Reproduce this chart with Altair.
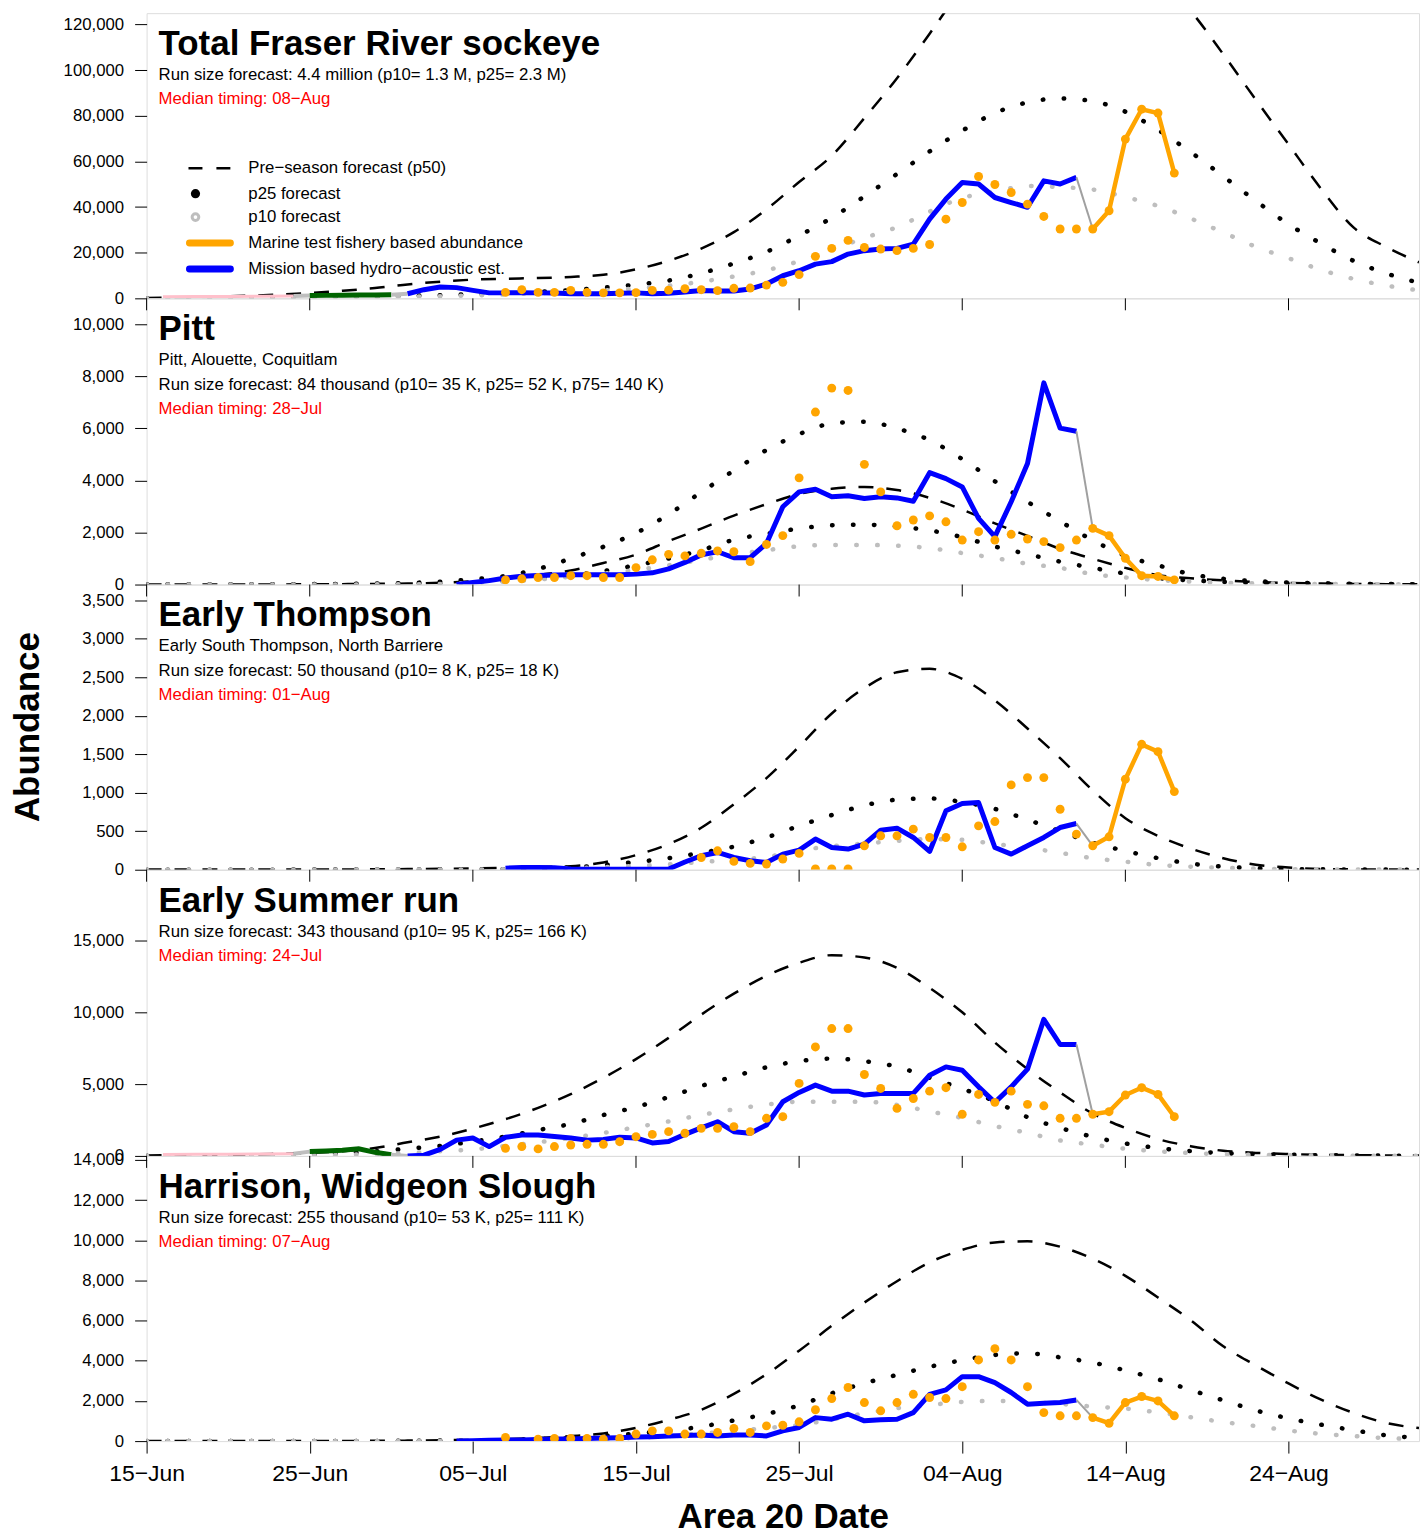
import altair as alt
import pandas as pd

FONT = "Liberation Sans"
PANEL_WIDTH = 1276
PANEL_HEIGHTS = [286, 287, 286, 287, 286]
DAY_MAX = 78  # days after 15-Jun (right edge ~ 01-Sep)

ORANGE = "#FFA500"
BLUE = "#0000FF"
GREY = "#BEBEBE"
CONNECT_GREY = "#A0A0A0"
PINK = "#FFC0CB"
GREEN = "#006400"
RED = "#FF0000"

# ---- x axis ----
TICK_DAYS = [0, 10, 20, 30, 40, 50, 60, 70]
TICK_LABELS = ["15−Jun", "25−Jun", "05−Jul", "15−Jul", "25−Jul", "04−Aug", "14−Aug", "24−Aug"]
CURVE_DAYS = list(range(0, 79, 2))          # forecast curves read every 2 days
SEGMENT_DAYS = [58, 59, 60, 61, 62, 63]     # connected orange segment

LEGEND_LABELS = ["Pre−season forecast (p50)", "p25 forecast", "p10 forecast",
                 "Marine test fishery based abundance", "Mission based hydro−acoustic est."]

# ---- Total Fraser River sockeye ----
TOTAL_P50 = [200, 400, 700, 1100, 1600, 2300, 3300, 4500, 6100, 7300,
             8200, 8600, 8900, 9400, 10300, 12700, 16500, 21800, 29000, 39000,
             51000, 62500, 79000, 96500, 116000, 136000, 152000, 162000, 166000, 163000,
             154000, 141000, 126000, 107000, 87000, 67500, 48000, 31000, 22500, 15800]
TOTAL_P25 = [50, 80, 120, 180, 280, 450, 650, 850, 1100, 1400,
             1800, 2300, 2900, 3600, 4700, 6000, 7800, 11000, 15300, 20400,
             27500, 35300, 44700, 54500, 64400, 73500, 81200, 85900, 87600, 86400,
             81800, 73800, 64100, 53500, 42700, 32500, 24000, 16400, 10900, 6800]
TOTAL_P10 = [20, 40, 60, 100, 150, 250, 350, 500, 700, 950,
             1300, 1700, 2200, 2800, 3500, 4300, 5500, 7300, 9600, 12300,
             16300, 21300, 26500, 31200, 38000, 44000, 46700, 49300, 48700, 47700,
             44400, 40500, 35000, 28900, 22600, 17600, 12500, 8500, 5600, 3500]
TOTAL_BLUE_START = 16
TOTAL_BLUE = [2000, 3800, 5000, 4700, 3500, 2400, 2400, 2500, 2400, 2300, 2000, 2000, 2000, 2200,
              2400, 2000, 2200, 2800, 3400, 3200, 3200, 4100, 6300, 9900, 12100, 15000, 16100,
              19400, 20900, 21600, 21900, 23800, 34700, 43500, 50800, 50100, 44200, 42000,
              39900, 51500, 50100, 53000]
TOTAL_ORANGE_START = 22
TOTAL_ORANGE = [2600, 3800, 2600, 2600, 3500, 2600, 2400, 2400, 2500, 3500, 3600, 4200, 3800,
                3400, 4400, 4500, 5800, 7000, 10400, 18400, 21900, 25400, 22300, 21600, 20900,
                21900, 23600, 34700, 42000, 53400, 49900, 46400, 41300, 35900, 30400, 30400]
TOTAL_ORANGE_LINE = [30400, 38400, 69800, 82900, 81200, 54900]
TOTAL_PINK_DAYS = [1, 3, 5, 7, 9]
TOTAL_PINK = [700, 800, 850, 900, 1000]
TOTAL_GREY_A_DAYS = [9, 10]
TOTAL_GREY_A = [1000, 1200]
TOTAL_GREEN_DAYS = [10, 11, 12, 13, 14, 15]
TOTAL_GREEN = [1200, 1300, 1400, 1500, 1500, 1600]
TOTAL_GREY_B_DAYS = [15, 16]
TOTAL_GREY_B = [1600, 2000]

# ---- Pitt ----
PITT_P50 = [5, 5, 5, 5, 5, 10, 15, 25, 40, 70,
            130, 230, 370, 540, 830, 1150, 1670, 2150, 2650, 3090,
            3480, 3680, 3750, 3630, 3330, 2880, 2350, 1870, 1370, 990,
            640, 360, 240, 160, 100, 60, 40, 25, 15, 10]
PITT_P75 = [5, 5, 5, 5, 8, 15, 25, 40, 60, 110,
            200, 330, 600, 1000, 1450, 1980, 2700, 3550, 4380, 5170,
            5780, 6190, 6260, 6000, 5550, 4820, 3970, 3180, 2430, 1700,
            1100, 740, 400, 220, 130, 80, 50, 30, 20, 10]
PITT_P25 = [3, 3, 3, 3, 3, 5, 8, 12, 20, 40,
            80, 140, 230, 350, 520, 740, 1000, 1320, 1720, 1950,
            2150, 2280, 2300, 2230, 2080, 1820, 1460, 1170, 880, 640,
            420, 250, 160, 100, 60, 40, 25, 15, 10, 5]
PITT_P10 = [2, 2, 2, 2, 2, 3, 5, 8, 12, 25,
            60, 110, 190, 300, 420, 560, 740, 950, 1150, 1320,
            1470, 1520, 1520, 1490, 1400, 1210, 1020, 800, 640, 400,
            270, 170, 110, 70, 45, 30, 20, 12, 8, 5]
PITT_BLUE_START = 19
PITT_BLUE = [0, 80, 150, 250, 320, 350, 370, 380, 380, 380, 380, 400, 450, 600, 850, 1140, 1260,
             1030, 1030, 1580, 2990, 3560, 3660, 3370, 3410, 3310, 3370, 3330, 3200, 4300, 4070,
             3750, 2540, 1840, 3180, 4650, 7750, 6010, 5890]
PITT_ORANGE_START = 22
PITT_ORANGE = [180, 220, 270, 270, 340, 340, 270, 270, 650, 950, 1160, 1100, 1200, 1290, 1260,
               880, 1540, 1880, 4100, 6630, 7550, 7460, 4620, 3560, 2260, 2480, 2640, 2410,
               1710, 2030, 1710, 1930, 1750, 1650, 1420, 1710]
PITT_ORANGE_LINE = [2160, 1880, 1010, 340, 310, 180]

# ---- Early Thompson ----
ET_P50 = [2, 2, 2, 2, 3, 3, 4, 5, 8, 12,
          18, 25, 35, 45, 95, 190, 333, 545, 850, 1190,
          1600, 2030, 2360, 2565, 2610, 2480, 2200, 1835, 1450, 1030,
          670, 440, 275, 150, 65, 30, 10, 5, 3, 2]
ET_P25 = [1, 1, 1, 1, 1, 2, 2, 3, 4, 5,
          6, 8, 15, 30, 60, 100, 150, 220, 300, 420,
          570, 710, 835, 910, 925, 880, 790, 650, 500, 350,
          245, 150, 80, 40, 20, 10, 5, 3, 2, 1]
ET_P10 = [1, 1, 1, 1, 1, 1, 1, 2, 2, 3,
          4, 5, 10, 20, 35, 50, 70, 100, 130, 165,
          250, 305, 340, 375, 398, 388, 335, 285, 220, 150,
          105, 62, 40, 25, 15, 8, 5, 3, 2, 1]
ET_BLUE_START = 22
ET_BLUE = [20, 30, 30, 25, 10, 5, 5, 5, 5, 5, 10, 100, 181, 224, 159, 117, 95, 203, 255, 398,
           289, 268, 333, 514, 540, 419, 237, 765, 860, 872, 289, 203, 311, 419, 548, 600]
ET_ORANGE_START = 34
ET_ORANGE = [159, 246, 108, 82, 74, 139, 212, 10, 10, 10, 311, 441, 441, 527, 419, 419, 298,
             570, 626, 1102, 1197, 1197, 786, 463]
ET_ORANGE_LINE = [311, 428, 1176, 1629, 1534, 1015]

# ---- Early Summer run ----
ES_P50 = [30, 50, 70, 100, 140, 200, 330, 550, 950, 1340,
          1900, 2560, 3350, 4300, 5440, 6740, 8220, 9840, 11300, 12550,
          13450, 13980, 13820, 13100, 11700, 10000, 7900, 6050, 4420, 2950,
          1950, 1170, 680, 360, 210, 130, 80, 50, 35, 25]
ES_P25 = [10, 15, 25, 40, 60, 100, 180, 320, 500, 700,
          1000, 1350, 1800, 2230, 2850, 3400, 4100, 4870, 5530, 6170,
          6600, 6780, 6600, 6210, 5450, 4680, 3800, 2700, 1950, 1330,
          870, 550, 330, 200, 120, 80, 50, 30, 20, 15]
ES_P10 = [5, 8, 12, 20, 30, 50, 80, 130, 200, 320,
          450, 700, 950, 1250, 1600, 2000, 2400, 2850, 3240, 3580,
          3770, 3770, 3770, 3550, 3100, 2640, 2080, 1600, 1080, 780,
          500, 320, 200, 120, 80, 50, 30, 20, 15, 10]
ES_BLUE_START = 16
ES_BLUE = [0, 50, 450, 1100, 1250, 650, 1300, 1450, 1450, 1350, 1250, 1100, 1150, 1300, 1250,
           900, 1000, 1500, 1950, 2380, 1690, 1580, 2150, 3770, 4420, 4930, 4510, 4510, 4240,
           4350, 4350, 4350, 5620, 6200, 5970, 4810, 3730, 4810, 6040, 9510, 7760, 7760]
ES_ORANGE_START = 22
ES_ORANGE = [530, 650, 490, 650, 760, 810, 810, 990, 1340, 1500, 1690, 1580, 1920, 1920, 2040,
             1690, 2620, 2730, 5050, 7590, 8870, 8870, 5670, 4700, 3310, 4000, 4510, 4750, 2900,
             4280, 3730, 4510, 3590, 3490, 2620, 2620]
ES_ORANGE_LINE = [2900, 3080, 4240, 4750, 4280, 2730]
ES_PINK_DAYS = [1, 3, 5, 7, 9]
ES_PINK = [100, 110, 120, 130, 150]
ES_GREY_A_DAYS = [9, 10]
ES_GREY_A = [150, 300]
ES_GREEN_DAYS = [10, 11, 12, 13, 14, 15]
ES_GREEN = [300, 340, 400, 500, 250, 80]
ES_GREY_B_DAYS = [15, 16]
ES_GREY_B = [80, 0]

# ---- Harrison, Widgeon Slough ----
HW_P50 = [2, 2, 3, 4, 5, 7, 10, 14, 25, 40,
          65, 100, 160, 250, 380, 660, 1060, 1560, 2350, 3330,
          4500, 5740, 6900, 7960, 8900, 9520, 9890, 9950, 9680, 9080,
          8230, 7150, 6020, 4720, 3770, 2870, 2060, 1400, 900, 650]
HW_P25 = [1, 1, 1, 2, 2, 3, 5, 7, 15, 25,
          40, 60, 100, 160, 250, 370, 520, 720, 1030, 1350,
          1780, 2380, 2880, 3300, 3700, 4030, 4290, 4370, 4170, 3910,
          3520, 3080, 2550, 2030, 1530, 1130, 820, 540, 290, 160]
HW_P10 = [1, 1, 1, 1, 1, 2, 2, 3, 5, 10,
          15, 25, 40, 60, 100, 160, 250, 380, 500, 650,
          800, 1080, 1380, 1640, 1800, 1950, 2000, 1950, 1850, 1720,
          1620, 1430, 1190, 950, 750, 530, 360, 250, 150, 100]
HW_BLUE_START = 19
HW_BLUE = [0, 20, 40, 50, 60, 80, 100, 110, 130, 150, 170, 200, 220, 250, 280, 300, 260, 300,
           300, 260, 510, 680, 1170, 1090, 1340, 1010, 1060, 1090, 1420, 2330, 2550, 3210, 3210,
           2910, 2420, 1840, 1890, 1920, 2050]
HW_ORANGE_START = 22
HW_ORANGE = [180, None, 100, 130, 130, 130, 100, 130, 350, 510, 510, 350, 350, 430, 630, 430,
             760, 790, 960, 1560, 2120, 2670, 1920, 1510, 1920, 2330, 2170, 2120, 2710, 4040,
             4600, 4040, 2710, 1420, 1260, 1260]
HW_ORANGE_LINE = [1170, 890, 1920, 2220, 2000, 1260]

PANELS = [
    dict(title="Total Fraser River sockeye",
         lines=["Run size forecast: 4.4 million (p10= 1.3 M, p25= 2.3 M)"],
         median="Median timing: 08−Aug", ymax=125000,
         yticks=[0, 20000, 40000, 60000, 80000, 100000, 120000],
         p50=TOTAL_P50, p75=None, p25=TOTAL_P25, p10=TOTAL_P10,
         blue_start=TOTAL_BLUE_START, blue=TOTAL_BLUE,
         orange_start=TOTAL_ORANGE_START, orange=TOTAL_ORANGE, orange_line=TOTAL_ORANGE_LINE,
         extras=[(TOTAL_PINK_DAYS, TOTAL_PINK, PINK, 3), (TOTAL_GREY_A_DAYS, TOTAL_GREY_A, GREY, 4),
                 (TOTAL_GREEN_DAYS, TOTAL_GREEN, GREEN, 5), (TOTAL_GREY_B_DAYS, TOTAL_GREY_B, GREY, 4)],
         legend=True),
    dict(title="Pitt",
         lines=["Pitt, Alouette, Coquitlam",
                "Run size forecast: 84 thousand (p10= 35 K, p25= 52 K, p75= 140 K)"],
         median="Median timing: 28−Jul", ymax=11000,
         yticks=[0, 2000, 4000, 6000, 8000, 10000],
         p50=PITT_P50, p75=PITT_P75, p25=PITT_P25, p10=PITT_P10,
         blue_start=PITT_BLUE_START, blue=PITT_BLUE,
         orange_start=PITT_ORANGE_START, orange=PITT_ORANGE, orange_line=PITT_ORANGE_LINE,
         extras=[], legend=False),
    dict(title="Early Thompson",
         lines=["Early South Thompson, North Barriere",
                "Run size forecast: 50 thousand (p10= 8 K, p25= 18 K)"],
         median="Median timing: 01−Aug", ymax=3705,
         yticks=[0, 500, 1000, 1500, 2000, 2500, 3000, 3500],
         p50=ET_P50, p75=None, p25=ET_P25, p10=ET_P10,
         blue_start=ET_BLUE_START, blue=ET_BLUE,
         orange_start=ET_ORANGE_START, orange=ET_ORANGE, orange_line=ET_ORANGE_LINE,
         extras=[], legend=False),
    dict(title="Early Summer run",
         lines=["Run size forecast: 343 thousand (p10= 95 K, p25= 166 K)"],
         median="Median timing: 24−Jul", ymax=19930,
         yticks=[0, 5000, 10000, 15000],
         p50=ES_P50, p75=None, p25=ES_P25, p10=ES_P10,
         blue_start=ES_BLUE_START, blue=ES_BLUE,
         orange_start=ES_ORANGE_START, orange=ES_ORANGE, orange_line=ES_ORANGE_LINE,
         extras=[(ES_PINK_DAYS, ES_PINK, PINK, 3), (ES_GREY_A_DAYS, ES_GREY_A, GREY, 4),
                 (ES_GREEN_DAYS, ES_GREEN, GREEN, 5), (ES_GREY_B_DAYS, ES_GREY_B, GREY, 4)],
         legend=False),
    dict(title="Harrison, Widgeon Slough",
         lines=["Run size forecast: 255 thousand (p10= 53 K, p25= 111 K)"],
         median="Median timing: 07−Aug", ymax=14200,
         yticks=[0, 2000, 4000, 6000, 8000, 10000, 12000, 14000],
         p50=HW_P50, p75=None, p25=HW_P25, p10=HW_P10,
         blue_start=HW_BLUE_START, blue=HW_BLUE,
         orange_start=HW_ORANGE_START, orange=HW_ORANGE, orange_line=HW_ORANGE_LINE,
         extras=[], legend=False),
]

LABEL_EXPR = ("[" + ",".join("'" + s + "'" for s in TICK_LABELS) + "][indexof(["
              + ",".join(str(d) for d in TICK_DAYS) + "], datum.value)]")


def frame(days, values):
    return pd.DataFrame({"day": list(days), "value": list(values)}).dropna()


def days_from(start, values):
    return list(range(start, start + len(values)))


def one(text):
    return pd.DataFrame({"t": [text]})


def build_panel(idx, cfg):
    h = PANEL_HEIGHTS[idx]
    is_bottom = idx == len(PANELS) - 1
    if is_bottom:
        x_axis = alt.Axis(values=TICK_DAYS, labelExpr=LABEL_EXPR, labelFont=FONT, labelFontSize=23,
                          labelColor="black", labelPadding=10, labelFlush=False, tickSize=12,
                          tickColor="black", tickWidth=1, domain=False, grid=False,
                          title="Area 20 Date", titleFont=FONT, titleFontSize=35,
                          titleFontWeight="bold", titleColor="black", titlePadding=14)
    else:
        x_axis = None
    x = alt.X("day:Q", scale=alt.Scale(domain=[0, DAY_MAX], nice=False, zero=False), axis=x_axis)
    y = alt.Y("value:Q", scale=alt.Scale(domain=[0, cfg["ymax"]], nice=False, zero=True),
              axis=alt.Axis(values=cfg["yticks"], format=",.0f", labelFont=FONT, labelFontSize=16.8,
                            labelColor="black", labelPadding=11, labelFlush=False,
                            labelOverlap=False, tickSize=12, tickColor="black", tickWidth=1,
                            domain=False, grid=False, title=None))

    layers = []

    def curve(values, **kw):
        return alt.Chart(frame(CURVE_DAYS, values)).mark_line(
            clip=True, interpolate="monotone", **kw).encode(x=x, y=y)

    dotted = dict(strokeWidth=4.5, strokeDash=[0.5, 20.5], strokeCap="round")
    layers.append(curve(cfg["p50"], color="black", strokeWidth=2.5, strokeDash=[15, 13]))
    if cfg["p75"] is not None:
        layers.append(curve(cfg["p75"], color="black", **dotted))
    layers.append(curve(cfg["p25"], color="black", **dotted))
    layers.append(curve(cfg["p10"], color=GREY, **dotted))

    for days, vals, color, width in cfg["extras"]:
        layers.append(alt.Chart(frame(days, vals)).mark_line(
            clip=True, color=color, strokeWidth=width).encode(x=x, y=y))

    blue_days = days_from(cfg["blue_start"], cfg["blue"])
    layers.append(alt.Chart(frame(blue_days, cfg["blue"])).mark_line(
        clip=True, color=BLUE, strokeWidth=5, strokeJoin="round").encode(x=x, y=y))
    layers.append(alt.Chart(frame([blue_days[-1], SEGMENT_DAYS[0]],
                                  [cfg["blue"][-1], cfg["orange_line"][0]])).mark_line(
        clip=True, color=CONNECT_GREY, strokeWidth=2).encode(x=x, y=y))

    orange_days = days_from(cfg["orange_start"], cfg["orange"])
    layers.append(alt.Chart(frame(orange_days + SEGMENT_DAYS, cfg["orange"] + cfg["orange_line"]))
                  .mark_circle(clip=True, color=ORANGE, size=80, opacity=1).encode(x=x, y=y))
    layers.append(alt.Chart(frame(SEGMENT_DAYS, cfg["orange_line"])).mark_line(
        clip=True, color=ORANGE, strokeWidth=4.5).encode(x=x, y=y))

    if idx > 0:
        layers.append(alt.Chart(pd.DataFrame({"day": TICK_DAYS})).mark_rule(
            color="black", strokeWidth=1).encode(x=x, y=alt.value(0), y2=alt.value(12)))

    texts = [(cfg["title"], 42, 35, "bold", "black")]
    for k, t in enumerate(cfg["lines"]):
        texts.append((t, 67 + 24.5 * k, 16.8, "normal", "black"))
    texts.append((cfg["median"], 67 + 24.5 * len(cfg["lines"]), 16.8, "normal", RED))
    for t, yy, fs, fw, col in texts:
        layers.append(alt.Chart(one(t)).mark_text(
            align="left", baseline="alphabetic", font=FONT, fontSize=fs, fontWeight=fw,
            color=col).encode(x=alt.value(12), y=alt.value(yy), text="t:N"))

    if cfg["legend"]:
        rows = [155.5, 181.0, 204.5, 230.5, 256.5]
        layers.append(alt.Chart(one("a")).mark_rule(color="black", strokeWidth=2.5,
                                                     strokeDash=[14, 14]).encode(
            x=alt.value(42), x2=alt.value(85), y=alt.value(rows[0])))
        layers.append(alt.Chart(one("b")).mark_point(filled=True, color="black", size=85,
                                                      opacity=1).encode(
            x=alt.value(49), y=alt.value(rows[1])))
        layers.append(alt.Chart(one("c")).mark_point(filled=False, color=GREY, size=45,
                                                      strokeWidth=3, opacity=1).encode(
            x=alt.value(49), y=alt.value(rows[2])))
        layers.append(alt.Chart(one("d")).mark_rule(color=ORANGE, strokeWidth=7,
                                                     strokeCap="round").encode(
            x=alt.value(43), x2=alt.value(84), y=alt.value(rows[3])))
        layers.append(alt.Chart(one("e")).mark_rule(color=BLUE, strokeWidth=7,
                                                     strokeCap="round").encode(
            x=alt.value(43), x2=alt.value(84), y=alt.value(rows[4])))
        for lab, yy in zip(LEGEND_LABELS, rows):
            layers.append(alt.Chart(one(lab)).mark_text(
                align="left", baseline="middle", font=FONT, fontSize=16.8,
                color="black").encode(x=alt.value(102), y=alt.value(yy), text="t:N"))

    if idx == 2:
        layers.append(alt.Chart(one("Abundance")).mark_text(
            angle=270, align="center", baseline="middle", font=FONT, fontSize=35,
            fontWeight="bold", color="black").encode(
            x=alt.value(-119), y=alt.value(h / 2), text="t:N"))

    return alt.layer(*layers).properties(width=PANEL_WIDTH, height=h)


panels = [build_panel(i, p) for i, p in enumerate(PANELS)]

chart = alt.vconcat(*panels, spacing=0, bounds="flush").properties(
    padding={"left": 2, "top": 2, "right": 0, "bottom": 0}
).configure_view(stroke="black", strokeWidth=1.5).configure(font=FONT)

chart.save("out.html", embed_options={"renderer": "svg", "actions": False})
